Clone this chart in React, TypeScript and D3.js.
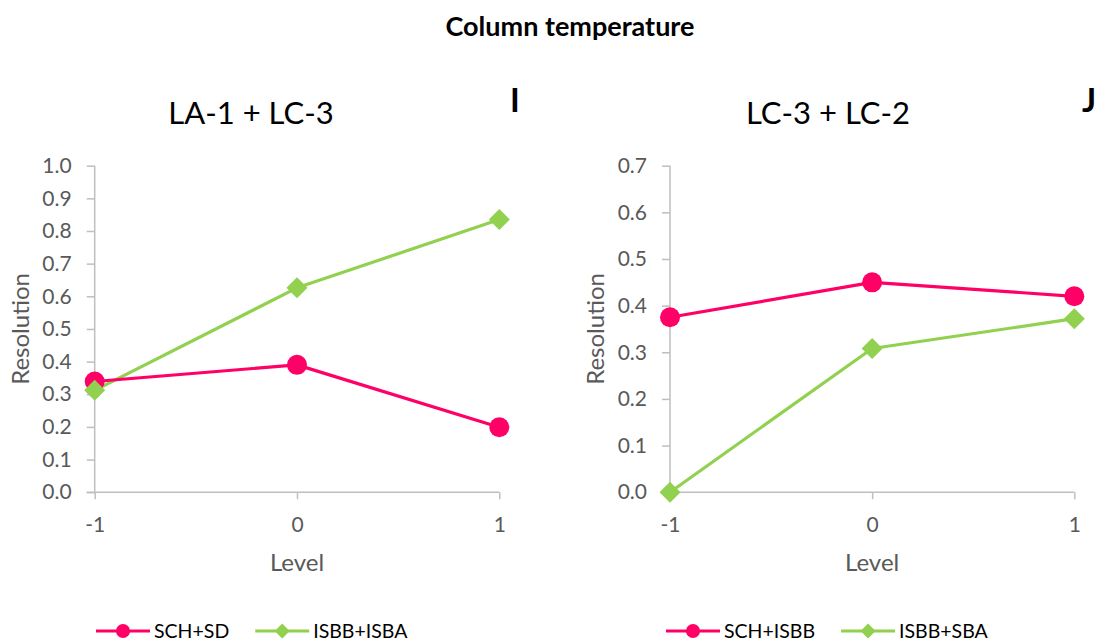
import React, { useEffect, useRef } from "react";
import * as d3 from "d3";

const W = 1097;
const H = 642;

const levels = [-1, 0, 1];

// Panel I: LA-1 + LC-3
const schSd = [0.339, 0.39, 0.199];
const isbbIsba = [0.312, 0.626, 0.835];
const leftYTicks = [0, 0.1, 0.2, 0.3, 0.4, 0.5, 0.6, 0.7, 0.8, 0.9, 1.0];

// Panel J: LC-3 + LC-2
const schIsbb = [0.375, 0.45, 0.42];
const isbbSba = [0.0, 0.308, 0.372];
const rightYTicks = [0, 0.1, 0.2, 0.3, 0.4, 0.5, 0.6, 0.7];

const PINK = "#ff0066";
const GREEN = "#92d050";
const AXIS = "#bfbfbf";
const TEXT = "#595959";
const FONT = "Lato, 'Open Sans', sans-serif";

type Series = { name: string; values: number[]; color: string; shape: "circle" | "diamond" };

type Panel = {
  title: string;
  letter: string;
  x0: number;
  x1: number;
  yMax: number;
  yTicks: number[];
  series: Series[];
  titleX: number;
  letterX: number;
  legendX: number;
};

const panels: Panel[] = [
  {
    title: "LA-1 + LC-3",
    letter: "I",
    x0: 94.7,
    x1: 499.3,
    yMax: 1.0,
    yTicks: leftYTicks,
    series: [
      { name: "SCH+SD", values: schSd, color: PINK, shape: "circle" },
      { name: "ISBB+ISBA", values: isbbIsba, color: GREEN, shape: "diamond" },
    ],
    titleX: 251,
    letterX: 515,
    legendX: 96,
  },
  {
    title: "LC-3 + LC-2",
    letter: "J",
    x0: 670,
    x1: 1074.3,
    yMax: 0.7,
    yTicks: rightYTicks,
    series: [
      { name: "SCH+ISBB", values: schIsbb, color: PINK, shape: "circle" },
      { name: "ISBB+SBA", values: isbbSba, color: GREEN, shape: "diamond" },
    ],
    titleX: 828,
    letterX: 1089,
    legendX: 666,
  },
];

const PLOT_TOP = 165.7;
const PLOT_BOTTOM = 492.2;
const LEGEND_Y = 631;

function drawMarker(
  g: d3.Selection<SVGGElement, unknown, null, undefined>,
  shape: "circle" | "diamond",
  cx: number,
  cy: number,
  size: number,
  color: string
) {
  if (shape === "circle") {
    g.append("circle").attr("cx", cx).attr("cy", cy).attr("r", size).attr("fill", color);
  } else {
    const s = size;
    g.append("path")
      .attr("d", `M${cx},${cy - s}L${cx + s},${cy}L${cx},${cy + s}L${cx - s},${cy}Z`)
      .attr("fill", color);
  }
}

export default function App() {
  const ref = useRef<SVGSVGElement>(null);

  useEffect(() => {
    const svg = d3.select(ref.current);
    svg.selectAll("*").remove();

    svg
      .append("text")
      .attr("x", 570)
      .attr("y", 36)
      .attr("text-anchor", "middle")
      .attr("font-family", FONT)
      .attr("font-weight", "bold")
      .attr("font-size", 27)
      .attr("fill", "#000")
      .text("Column temperature");

    panels.forEach((p) => {
      const g = svg.append("g");
      const x = d3.scaleLinear().domain([-1, 1]).range([p.x0, p.x1]);
      const y = d3.scaleLinear().domain([0, p.yMax]).range([PLOT_BOTTOM, PLOT_TOP]);

      // panel title and letter
      g.append("text")
        .attr("x", p.titleX)
        .attr("y", 124)
        .attr("text-anchor", "middle")
        .attr("font-family", FONT)
        .attr("font-size", 31)
        .attr("fill", "#000")
        .text(p.title);
      g.append("text")
        .attr("x", p.letterX)
        .attr("y", 112)
        .attr("text-anchor", "middle")
        .attr("font-family", FONT)
        .attr("font-weight", "bold")
        .attr("font-size", 33)
        .attr("fill", "#000")
        .text(p.letter);

      // y axis
      const yAxis = d3
        .axisLeft(y)
        .tickValues(p.yTicks)
        .tickSize(8)
        .tickPadding(15)
        .tickFormat(d3.format(".1f"));
      const yg = g.append("g").attr("transform", `translate(${p.x0},0)`).call(yAxis);
      yg.select(".domain").attr("stroke", AXIS).attr("stroke-width", 1.5).attr("d", `M0,${PLOT_TOP}V${PLOT_BOTTOM}`);
      yg.selectAll(".tick line").attr("stroke", AXIS).attr("stroke-width", 1.5);
      yg.selectAll(".tick text")
        .attr("font-family", FONT)
        .attr("font-size", 21)
        .attr("fill", TEXT);

      // x axis
      const xAxis = d3
        .axisBottom(x)
        .tickValues(levels)
        .tickSize(7)
        .tickPadding(18)
        .tickFormat(d3.format("d"));
      const xg = g.append("g").attr("transform", `translate(0,${PLOT_BOTTOM})`).call(xAxis);
      xg.select(".domain").attr("stroke", AXIS).attr("stroke-width", 1.5).attr("d", `M${p.x0 - 8},0H${p.x1}`);
      xg.selectAll(".tick line").attr("stroke", AXIS).attr("stroke-width", 1.5);
      xg.selectAll(".tick text")
        .attr("font-family", FONT)
        .attr("font-size", 21)
        .attr("fill", TEXT)
        .text((d: any) => (d < 0 ? "-" + Math.abs(d) : String(d)));

      // axis titles
      g.append("text")
        .attr("x", (p.x0 + p.x1) / 2)
        .attr("y", 571)
        .attr("text-anchor", "middle")
        .attr("font-family", FONT)
        .attr("font-size", 24)
        .attr("fill", TEXT)
        .text("Level");
      g.append("text")
        .attr("transform", `translate(${p.x0 - 66},${(PLOT_TOP + PLOT_BOTTOM) / 2}) rotate(-90)`)
        .attr("text-anchor", "middle")
        .attr("font-family", FONT)
        .attr("font-size", 24)
        .attr("fill", TEXT)
        .text("Resolution");

      // series lines, then markers (pink markers stay above green ones at level -1)
      const line = d3
        .line<number>()
        .x((_, i) => x(levels[i]))
        .y((d) => y(d));
      [...p.series].reverse().forEach((s) => {
        g.append("path")
          .attr("d", line(s.values))
          .attr("fill", "none")
          .attr("stroke", s.color)
          .attr("stroke-width", 3.2)
          .attr("stroke-linejoin", "round");
      });
      p.series.forEach((s) => {
        s.values.forEach((v, i) => {
          drawMarker(g as any, s.shape, x(levels[i]), y(v), s.shape === "circle" ? 10 : 10.5, s.color);
        });
      });

      // legend
      const lg = g.append("g").attr("transform", `translate(${p.legendX},${LEGEND_Y})`);
      let lx = 0;
      p.series.forEach((s) => {
        lg.append("line")
          .attr("x1", lx)
          .attr("x2", lx + 54)
          .attr("y1", 0)
          .attr("y2", 0)
          .attr("stroke", s.color)
          .attr("stroke-width", 3.2);
        drawMarker(lg as any, s.shape, lx + 27, 0, s.shape === "circle" ? 7 : 7.5, s.color);
        const t = lg
          .append("text")
          .attr("x", lx + 58)
          .attr("y", 6.5)
          .attr("font-family", FONT)
          .attr("font-size", 19.5)
          .attr("fill", "#000")
          .text(s.name);
        const tw = (t.node() as SVGTextElement).getComputedTextLength();
        lx += 58 + tw + 26;
      });
    });
  }, []);

  return (
    <div style={{ position: "absolute", left: 0, top: 0, width: W, height: H, background: "#fff" }}>
      <svg ref={ref} width={W} height={H} />
    </div>
  );
}
